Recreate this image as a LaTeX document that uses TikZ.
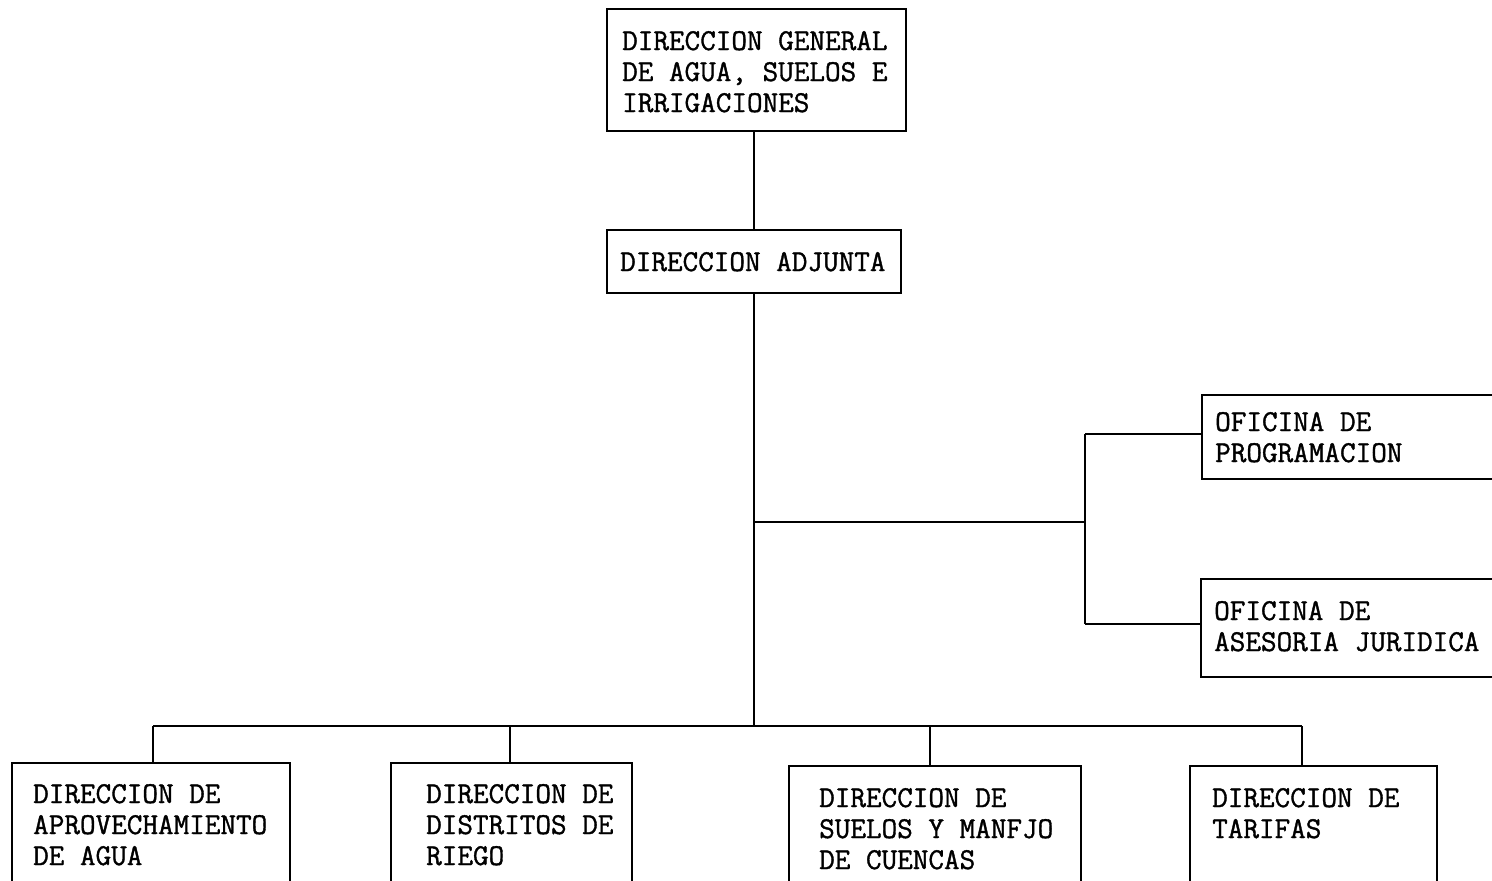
\documentclass[tikz,border=0pt]{standalone}
\usepackage{fontspec}
\setmonofont[FakeBold=1.2]{Latin Modern Mono}
\begin{document}
\begin{tikzpicture}[x=1pt,y=-1pt,
  boxline/.style={draw=black,line width=2.6pt},
  conn/.style={draw=black,line width=2.6pt},
  lbl/.style={anchor=base west,inner sep=0pt,align=left,font=\fontsize{30.3}{31}\selectfont\ttfamily}]
\fill[white] (0,0) rectangle (1492,881);
\useasboundingbox (0,0) rectangle (1492,881);
\clip (0,0) rectangle (1492,881);
% boxes
\node[boxline,minimum width=299pt,minimum height=122pt,inner sep=0pt] (g) at (756.5,70) {};
\node[boxline,minimum width=294pt,minimum height=63pt,inner sep=0pt] (a) at (754,261.5) {};
\node[boxline,minimum width=358pt,minimum height=84pt,inner sep=0pt] (p) at (1381,437) {};
\node[boxline,minimum width=359pt,minimum height=98pt,inner sep=0pt] (j) at (1380.5,628) {};
\node[boxline,minimum width=278pt,minimum height=137pt,inner sep=0pt] (d1) at (151,831.5) {};
\node[boxline,minimum width=241pt,minimum height=137pt,inner sep=0pt] (d2) at (511.5,831.5) {};
\node[boxline,minimum width=292pt,minimum height=134pt,inner sep=0pt] (d3) at (935,833) {};
\node[boxline,minimum width=247pt,minimum height=134pt,inner sep=0pt] (d4) at (1313.5,833) {};
% texts (anchor = baseline of the last line)
\node[lbl] (gt) at (622,112) {DIRECCION GENERAL\\DE AGUA, SUELOS E\\IRRIGACIONES};
\node[lbl] (at) at (620,271) {DIRECCION ADJUNTA};
\node[lbl] (pt) at (1215,462) {OFICINA DE\\PROGRAMACION};
\node[lbl] (jt) at (1214,651) {OFICINA DE\\ASESORIA JURIDICA};
\node[lbl] (d1t) at (33,865) {DIRECCION DE\\APROVECHAMIENTO\\DE AGUA};
\node[lbl] (d2t) at (426,865) {DIRECCION DE\\DISTRITOS DE\\RIEGO};
\node[lbl] (d3t) at (819,869) {DIRECCION DE\\SUELOS Y MANFJO\\DE CUENCAS};
\node[lbl] (d4t) at (1212,838) {DIRECCION DE\\TARIFAS};
% connector coordinates
\coordinate (k) at (754,522);
\coordinate (kr) at (1085,522);
\coordinate (bus) at (754,726);
\coordinate (b1) at (153,726);
\coordinate (b2) at (510,726);
\coordinate (b3) at (930,726);
\coordinate (b4) at (1302,726);
\coordinate (pk) at (1085,434);
\coordinate (jk) at (1085,624);
% connectors
\draw[conn] (g.south -| a.north) -- (a.north);
\draw[conn] (a.south) -- (bus);
\draw[conn] (k) -- (kr);
\draw[conn] (pk) -- (jk);
\draw[conn] (pk) -- (pk -| p.west);
\draw[conn] (jk) -- (jk -| j.west);
\draw[conn] (b1) -- (b4);
\draw[conn] (b1) -- (b1 |- d1.north);
\draw[conn] (b2) -- (b2 |- d2.north);
\draw[conn] (b3) -- (b3 |- d3.north);
\draw[conn] (b4) -- (b4 |- d4.north);
\end{tikzpicture}
\end{document}
